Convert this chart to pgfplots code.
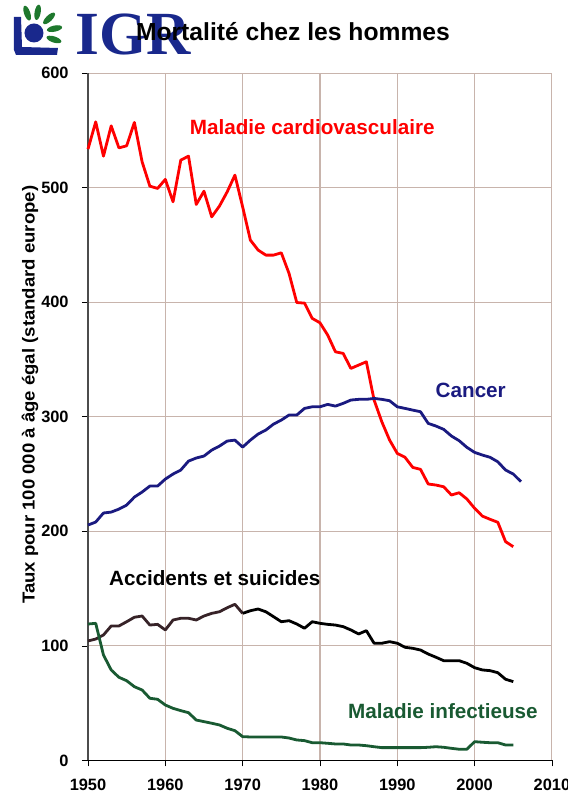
\documentclass[border=0pt]{standalone}
\usepackage{pgfplots}
\pgfplotsset{compat=1.18}
\usepackage{fontspec}
\setmainfont{Liberation Sans}
\newfontfamily\serifbold{Liberation Serif}
\definecolor{cardio}{RGB}{255,0,0}
\definecolor{cancer}{RGB}{26,26,128}
\definecolor{accid}{RGB}{0,0,0}
\definecolor{accidb}{RGB}{55,35,40}
\definecolor{infect}{RGB}{25,90,50}
\definecolor{gridc}{RGB}{200,180,172}
\definecolor{igrblue}{RGB}{25,40,140}
\definecolor{igrgreen}{RGB}{30,120,45}
\begin{document}
\begin{tikzpicture}
\path[use as bounding box] (-66pt,-27.4pt) rectangle (360pt,570.4pt);
% logo
\begin{scope}[shift={(-66pt,570.4pt)}, x=0.75pt, y=-0.75pt]
  \fill[igrblue] (14,17) -- (21,17) -- (22,47) -- (58,48) -- (57,55) -- (16,55) -- (14,50) -- cycle;
  \fill[igrblue] (34,33) circle [radius=9.5];
  \node[anchor=base west, inner sep=0pt, text=igrblue, font=\serifbold\bfseries\fontsize{46}{46}\selectfont] at (75,55) {IGR};
\end{scope}
\begin{scope}[shift={(-40.5pt,545.65pt)}]
  \foreach \a in {109,80,44,12,-18}{
    \fill[igrgreen, rotate=\a] (15.75pt,0) ellipse [x radius=5.8pt, y radius=2.3pt];
  }
\end{scope}
\node[font=\bfseries\fontsize{18.5}{20}\selectfont] at (-66pt+293*0.75pt, 570.4pt-32*0.75pt) {Mortalité chez les hommes};
\begin{axis}[
  at={(0,0)}, anchor=south west,
  scale only axis, width=348pt, height=515.6pt,
  xmin=1950, xmax=2010, ymin=0, ymax=600,
  xtick={1950,1960,...,2010}, ytick={0,100,...,600},
  axis lines=left,
  axis line style={-},
  x axis line style={black, line width=0.8pt},
  y axis line style={black!70, line width=0.8pt},
  tick align=outside, major tick length=4.5pt,
  tick style={black, line width=0.6pt},
  grid=major, major grid style={gridc, line width=0.8pt},
  /pgf/number format/assume math mode=true,
  /pgf/number format/1000 sep={},
  ticklabel style={font=\bfseries\fontsize{12.3}{14}\selectfont},
  xticklabel style={yshift=-6pt},
  yticklabel style={xshift=-6.5pt},
  ylabel={\scalebox{1.07}[1]{Taux pour 100 000 à âge égal (standard europe)}},
  ylabel style={at={(axis description cs:-0.125,0.532)}, anchor=center, font=\bfseries\fontsize{13}{15}\selectfont},
  clip=false,
]
\addplot[cardio, line width=2.1pt, line join=round] coordinates {
(1950,533.6)(1951,557.4)(1952,527.5)(1953,553.9)(1954,534.7)(1955,536.5)(1956,556.9)(1957,522.5)(1958,501.3)(1959,499.3)
(1960,507.2)(1961,487.6)(1962,524.0)(1963,527.5)(1964,485.3)(1965,496.9)(1966,474.5)(1967,483.9)(1968,496.3)(1969,510.9)
(1970,483.2)(1971,454.2)(1972,445.5)(1973,441.1)(1974,441.1)(1975,443.1)(1976,425.1)(1977,399.7)(1978,399.2)(1979,385.9)
(1980,382.0)(1981,371.3)(1982,356.7)(1983,355.3)(1984,342.2)(1985,345.1)(1986,348.0)(1987,314.6)(1988,295.6)(1989,279.7)
(1990,268.0)(1991,264.6)(1992,255.8)(1993,254.1)(1994,241.3)(1995,240.4)(1996,238.9)(1997,231.7)(1998,233.7)(1999,228.2)
(2000,220.1)(2001,213.3)(2002,210.5)(2003,207.9)(2004,191.0)(2005,186.6)
};
\addplot[cancer, line width=2.1pt, line join=round] coordinates {
(1950,205.5)(1951,208.1)(1952,216.0)(1953,216.8)(1954,219.4)(1955,222.9)(1956,229.9)(1957,234.3)(1958,239.5)(1959,239.5)
(1960,245.6)(1961,250.0)(1962,253.5)(1963,261.3)(1964,264.0)(1965,265.7)(1966,270.9)(1967,274.4)(1968,278.8)(1969,279.6)
(1970,273.5)(1971,279.6)(1972,284.9)(1973,288.4)(1974,293.6)(1975,297.1)(1976,301.5)(1977,301.5)(1978,307.3)(1979,308.7)
(1980,308.7)(1981,310.8)(1982,309.3)(1983,311.7)(1984,314.6)(1985,315.2)(1986,315.2)(1987,316.0)(1988,315.2)(1989,314.0)
(1990,308.7)(1991,307.3)(1992,305.8)(1993,304.4)(1994,294.2)(1995,291.9)(1996,289.0)(1997,283.2)(1998,279.1)(1999,273.3)
(2000,268.9)(2001,266.6)(2002,264.6)(2003,260.7)(2004,253.5)(2005,250.0)(2006,243.3)
};
\addplot[accidb, line width=2.1pt, line join=round] coordinates {
(1950,104.3)(1951,106.0)(1952,109.5)(1953,117.4)(1954,117.4)(1955,121.1)(1956,125.0)(1957,126.1)(1958,118.2)(1959,118.8)
(1960,113.9)(1961,122.6)(1962,124.1)(1963,124.1)(1964,122.6)(1965,126.1)(1966,128.4)(1967,129.8)(1968,133.3)(1969,136.3)
(1970,128.4)
};
\addplot[accid, line width=2.1pt, line join=round] coordinates {
(1970,128.4)(1971,130.7)(1972,132.2)(1973,129.8)(1974,125.5)(1975,121.1)(1976,122.0)(1977,119.1)(1978,115.4)(1979,121.1)
(1980,119.7)(1981,118.8)(1982,118.2)(1983,116.8)(1984,113.9)(1985,110.4)(1986,113.3)(1987,102.3)(1988,102.3)(1989,103.7)
(1990,102.3)(1991,98.8)(1992,97.9)(1993,96.4)(1994,92.9)(1995,90.1)(1996,87.1)(1997,87.1)(1998,87.1)(1999,84.8)
(2000,81.0)(2001,79.0)(2002,78.4)(2003,76.6)(2004,70.9)(2005,68.8)
};
\addplot[infect, line width=2.1pt, line join=round] coordinates {
(1950,119.1)(1951,119.7)(1952,92.1)(1953,79.0)(1954,72.6)(1955,69.6)(1956,64.4)(1957,61.5)(1958,54.3)(1959,53.4)
(1960,48.4)(1961,45.5)(1962,43.5)(1963,41.7)(1964,35.3)(1965,33.9)(1966,32.5)(1967,31.0)(1968,28.1)(1969,26.0)
(1970,20.8)(1971,20.5)(1972,20.5)(1973,20.5)(1974,20.5)(1975,20.5)(1976,19.6)(1977,17.9)(1978,17.3)(1979,15.5)
(1980,15.5)(1981,15.0)(1982,14.4)(1983,14.4)(1984,13.5)(1985,13.5)(1986,12.9)(1987,12.0)(1988,11.2)(1989,11.2)
(1990,11.2)(1991,11.2)(1992,11.2)(1993,11.2)(1994,11.5)(1995,12.0)(1996,11.5)(1997,10.6)(1998,9.8)(1999,9.8)
(2000,16.4)(2001,15.9)(2002,15.5)(2003,15.5)(2004,13.5)(2005,13.5)
};
\node[text=cardio, font=\bfseries\fontsize{15.5}{17}\selectfont] at (axis cs:1979,552.8) {Maladie cardiovasculaire};
\node[text=cancer, font=\bfseries\fontsize{15.5}{17}\selectfont] at (axis cs:1999.5,323.3) {Cancer};
\node[text=black, font=\bfseries\fontsize{15.5}{17}\selectfont] at (axis cs:1966.4,159.3) {Accidents et suicides};
\node[text=infect, font=\bfseries\fontsize{15.5}{17}\selectfont] at (axis cs:1995.9,43.2) {Maladie infectieuse};
\end{axis}
\end{tikzpicture}
\end{document}
